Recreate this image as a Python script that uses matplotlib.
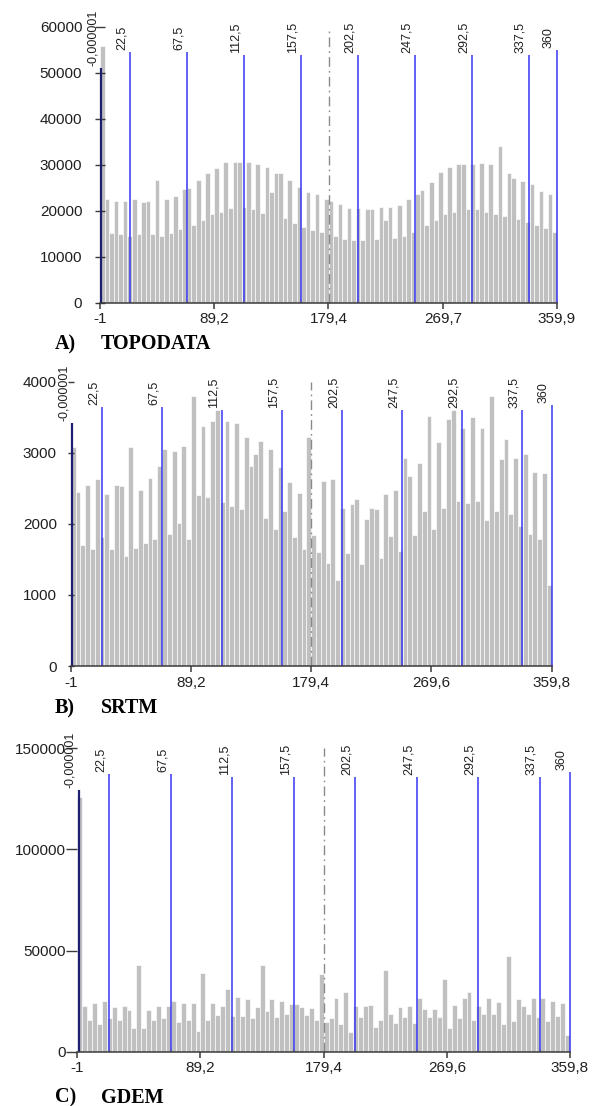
import numpy as np
import matplotlib
matplotlib.use("Agg")
import matplotlib.pyplot as plt

W, H, DPI = 598, 1106, 100

# ---------------- data ----------------
topodata_counts = [55800,
    22500, 15200, 22200, 14900, 22200, 14600, 22500, 14900, 22000, 22200,
    14900, 26600, 14600, 22500, 15100, 23300, 16000, 24700, 24900, 17000,
    26600, 18000, 28100, 19200, 29200, 19800, 30500, 20600, 30500, 30500,
    20800, 30500, 20300, 30100, 19500, 29500, 24100, 28100, 28100, 18500,
    26700, 17300, 25100, 16500, 24100, 15800, 23600, 15400, 22500,
    22200, 14600, 21400, 13800, 20600, 13600, 20600, 13600, 20300, 20300,
    13800, 20800, 18000, 20800, 14100, 21200, 14600, 22500, 15400, 23600,
    24600, 17000, 26200, 18000, 28400, 19200, 29500, 19800, 30100, 30100,
    20300, 30100, 20300, 30300, 19800, 30100, 19200, 34100, 18900, 28100,
    27200, 18200, 26500, 17600, 25700, 16800, 24300, 16200, 23600, 15400]

srtm_counts = [3085,
    2452, 1702, 2546, 1641, 2625, 1810, 2419, 1641, 2546, 2532,
    1552, 3075, 1664, 2475, 1735, 2639, 1781, 2818, 3052, 1857,
    3019, 2007, 3090, 1786, 3797, 2400, 3380, 2382, 3451, 3600,
    2311, 3451, 2255, 3413, 2203, 3216, 2813, 2977, 3160, 2077,
    3048, 1927, 2804, 2185, 2584, 1810, 2438, 1646, 3216,
    1843, 1608, 2602, 1444, 2625, 1210, 2227, 1594, 2278, 2349,
    1430, 2063, 2227, 2203, 1514, 2419, 1828, 2475, 1622, 2930,
    2672, 1843, 2850, 2180, 3521, 1927, 3150, 2227, 3469, 3600,
    2325, 3343, 2288, 3507, 2325, 3343, 2053, 3797, 2180, 2907,
    3193, 2133, 2930, 1969, 2977, 1857, 2729, 1786, 2710, 1139]

gdem_counts = [126000,
    22700, 15700, 24000, 13700, 25300, 16600, 22000, 15700, 22700, 20700,
    11600, 43000, 11600, 20700, 15700, 22700, 16600, 22700, 25300, 14600,
    24000, 15700, 24000, 10400, 38900, 15700, 24000, 17900, 22700, 31000,
    17700, 26800, 17700, 26000, 16600, 22000, 42700, 19900, 26000, 17400,
    25200, 18500, 23500, 23800, 22000, 18200, 21500, 15700,
    38400, 14600, 16600, 26500, 13700, 29300, 9600, 22400, 17100, 22700,
    23200, 12400, 15700, 40200, 18500, 14400, 22000, 17100, 22400, 14400,
    26500, 21000, 17100, 21000, 17100, 36100, 11600, 23200, 16600, 26500,
    29300, 15700, 22400, 18500, 26500, 18500, 24500, 13700, 47200, 15200,
    26000, 22400, 18500, 26500, 17100, 26500, 15200, 25300, 17700, 24000, 8300]

topodata_range = (-1, 359.9)
srtm_range = (-1, 359.8)
gdem_range = (-1, 359.8)

topodata_xticks = [-1, 89.2, 179.4, 269.7, 359.9]
topodata_xticklabels = ["-1", "89,2", "179,4", "269,7", "359,9"]
srtm_xticks = [-1, 89.2, 179.4, 269.6, 359.8]
srtm_xticklabels = ["-1", "89,2", "179,4", "269,6", "359,8"]
gdem_xticks = [-1, 89.2, 179.4, 269.6, 359.8]
gdem_xticklabels = ["-1", "89,2", "179,4", "269,6", "359,8"]

topodata_yticks = [0, 10000, 20000, 30000, 40000, 50000, 60000]
srtm_yticks = [0, 1000, 2000, 3000, 4000]
gdem_yticks = [0, 50000, 100000, 150000]

ref_values = [-0.000001, 22.5, 67.5, 112.5, 157.5, 202.5, 247.5, 292.5, 337.5, 360]
ref_labels = ["-0,000001", "22,5", "67,5", "112,5", "157,5",
              "202,5", "247,5", "292,5", "337,5", "360"]

panel_letters = ["A)", "B)", "C)"]
panel_names = ["TOPODATA", "SRTM", "GDEM"]

# ---------------- style ----------------
SANS = ["Liberation Sans", "DejaVu Sans"]
SERIF = ["Liberation Serif", "DejaVu Serif"]
BAR_C = "#c0c0c0"
BLUE = "#3535f2"
NAVY = "#1e1e6e"
AXC = "#3a3a3a"
TXT = "#202020"

fig = plt.figure(figsize=(W / DPI, H / DPI), dpi=DPI)


def px_rect(x0, x1, ytop, ybot):
    return [x0 / W, 1 - ybot / H, (x1 - x0) / W, (ybot - ytop) / H]


panels = [
    dict(rect=px_rect(100, 557, 26.7, 302.7), counts=topodata_counts, xr=topodata_range,
         xt=topodata_xticks, xtl=topodata_xticklabels, yt=topodata_yticks,
         ydir="inout", ylen=6.5, ypad=9.5, base=349),
    dict(rect=px_rect(70.7, 551.7, 381.7, 666), counts=srtm_counts, xr=srtm_range,
         xt=srtm_xticks, xtl=srtm_xticklabels, yt=srtm_yticks,
         ydir="inout", ylen=4.8, ypad=7.5, base=713),
    dict(rect=px_rect(77.3, 570, 748.3, 1051.7), counts=gdem_counts, xr=gdem_range,
         xt=gdem_xticks, xtl=gdem_xticklabels, yt=gdem_yticks,
         ydir="out", ylen=7.6, ypad=0.8, base=1102.7),
]

axes = []
anns = []
for i, p in enumerate(panels):
    ax = fig.add_axes(p["rect"])
    counts = np.asarray(p["counts"], dtype=float)
    edges = np.linspace(p["xr"][0], p["xr"][1], len(counts) + 1)
    ax.bar(edges[:-1], counts, width=np.diff(edges), align="edge",
           color=BAR_C, edgecolor="white", linewidth=0.45, zorder=1)
    ax.set_xlim(*p["xr"])
    ax.set_ylim(0, p["yt"][-1])
    for s in ["top", "right", "left"]:
        ax.spines[s].set_visible(False)
    ax.spines["bottom"].set_color(AXC)
    ax.spines["bottom"].set_linewidth(1.1)
    ax.spines["bottom"].set_zorder(5)

    ax.set_xticks(p["xt"])
    ax.set_xticklabels(p["xtl"])
    ax.set_yticks(p["yt"])
    ax.set_yticklabels([str(v) for v in p["yt"]])
    ax.tick_params(axis="x", direction="out", length=4, width=1.1, color=AXC,
                   pad=3.0, labelsize=11, labelcolor=TXT)
    ax.tick_params(axis="y", direction=p["ydir"], length=p["ylen"], width=1.0,
                   color=AXC, pad=p["ypad"], labelsize=11, labelcolor=TXT)
    ax.set_xticks(ref_values[1:-1], minor=True)
    ax.tick_params(axis="x", which="minor", direction="in", length=2, width=1.2,
                   color="#d8cc50")
    for lab in ax.get_xticklabels() + ax.get_yticklabels():
        lab.set_family(SANS)

    # centre dash-dot line
    mid = (p["xr"][0] + p["xr"][1]) / 2
    ax.plot([mid, mid], [0, p["yt"][-1]], color="#8a8a8a", lw=1.0,
            linestyle=(0, (7, 3, 1.2, 3)), zorder=2, clip_on=False)

    # reference labels
    for v, lab in zip(ref_values, ref_labels):
        t = ax.annotate(lab, xy=(v, 1), xycoords=("data", "axes fraction"),
                        xytext=(-1.6, -8), textcoords="offset points",
                        rotation=90, ha="right", va="center", fontsize=9,
                        color=TXT, family=SANS, annotation_clip=False)
        anns.append((ax, v, t))

    fig.text(55 / W, 1 - p["base"] / H, panel_letters[i], fontsize=14.5,
             fontweight="bold", family=SERIF, va="baseline", ha="left", color="#000000")
    fig.text(101 / W, 1 - p["base"] / H, panel_names[i], fontsize=14.5,
             fontweight="bold", family=SERIF, va="baseline", ha="left", color="#000000")
    axes.append(ax)

fig.canvas.draw()
renderer = fig.canvas.get_renderer()
for ax, v, t in anns:
    bb = t.get_window_extent(renderer)
    y_disp = bb.y0 - 2.0
    ytop = ax.transData.inverted().transform((0, y_disp))[1]
    col = NAVY if v < 1 else BLUE
    lw = 1.6 if v < 1 else 1.1
    ax.plot([v, v], [0, ytop], color=col, lw=lw, zorder=4, clip_on=False,
            solid_capstyle="butt")

fig.savefig("out.png", dpi=DPI)
